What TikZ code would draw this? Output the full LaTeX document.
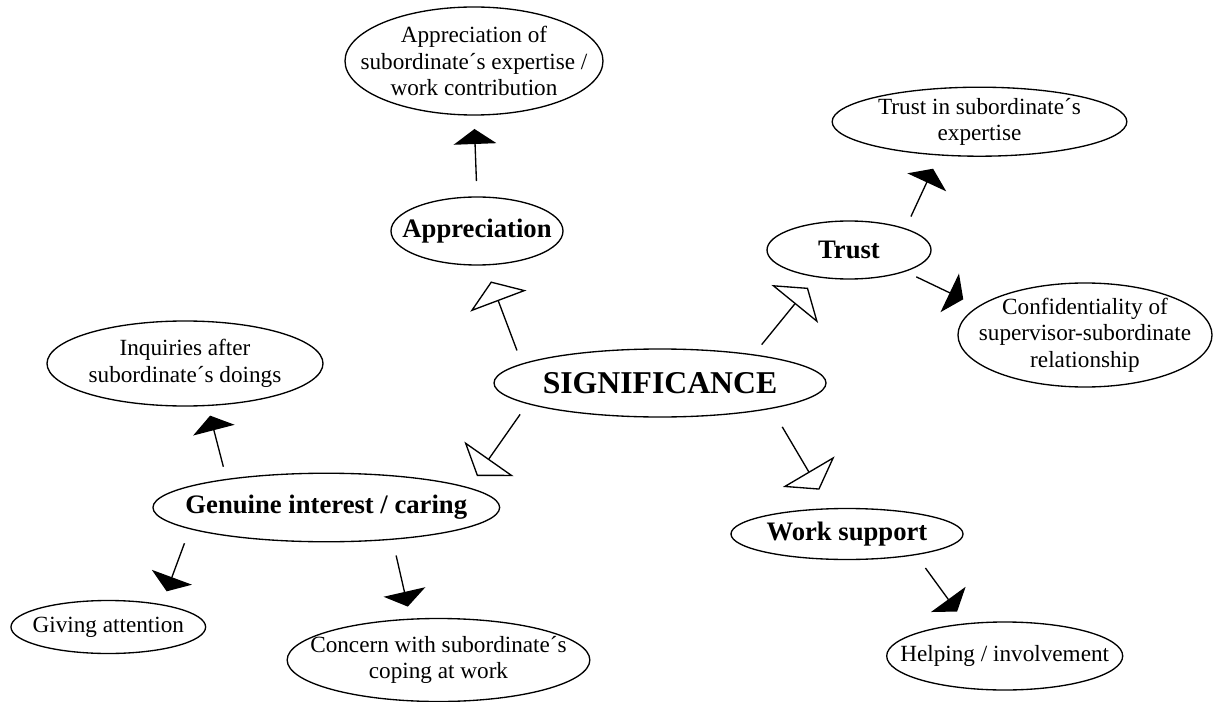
\documentclass[tikz,border=0pt]{standalone}
\usepackage{fontspec}
\setmainfont{Liberation Serif}
\usepackage{tikz}
\usetikzlibrary{shapes.geometric, arrows.meta}
\tikzstyle{core} = [ellipse, draw=black, line width=1pt, inner sep=-5cm, align=center, font=\bfseries\fontsize{23.8}{28}\selectfont]
\tikzstyle{theme} = [ellipse, draw=black, line width=1pt, inner sep=-5cm, align=center, font=\bfseries\fontsize{20}{23}\selectfont]
\tikzstyle{subtheme} = [ellipse, draw=black, line width=1pt, inner sep=-5cm, align=center, font=\fontsize{17.4}{19.8}\selectfont]
\tikzstyle{openarrow} = [line width=1pt, -{Triangle[open, fill=white, length=15.75pt, width=45pt]}]
\tikzstyle{fullarrow} = [line width=1pt, -{Triangle[length=11.25pt, width=32pt]}]

\begin{document}
\begin{tikzpicture}[x=0.75pt, y=-0.75pt]
                \useasboundingbox (0,0) rectangle (1213,702);
                \node (sig) [core, minimum width=249pt, minimum height=51pt] at (660,383) {SIGNIFICANCE};
                \node (appr) [theme, minimum width=129pt, minimum height=51pt] at (477,231) {Appreciation};
                \node (trust) [theme, minimum width=123pt, minimum height=43.5pt] at (849,250) {Trust};
                \node (genu) [theme, minimum width=260pt, minimum height=51.4pt] at (326.3,507.5) {Genuine interest / caring};
                \node (work) [theme, minimum width=174pt, minimum height=38.25pt] at (847,534) {Work support};

                \node (apprx) [subtheme, minimum width=193.5pt, minimum height=81pt] at (474,61) {Appreciation of\\subordinate´s expertise /\\work contribution};
                \node (trustx) [subtheme, minimum width=221pt, minimum height=51.75pt] at (979.5,121.7) {Trust in subordinate´s\\expertise};
                \node (conf) [subtheme, minimum width=190.5pt, minimum height=78pt] at (1085,335) {Confidentiality of\\supervisor-subordinate\\relationship};
                \node (inq) [subtheme, minimum width=207pt, minimum height=63.75pt] at (185,363.5) {Inquiries after\\subordinate´s doings};
                \node (giving) [subtheme, minimum width=146pt, minimum height=39.75pt] at (108.3,627) {Giving attention};
                \node (concern) [subtheme, minimum width=227pt, minimum height=62.25pt] at (438.5,660) {Concern with subordinate´s\\coping at work};
                \node (helping) [subtheme, minimum width=177pt, minimum height=51pt] at (1004.7,656) {Helping / involvement};

                \draw [openarrow, shorten <=10.5pt, shorten >=12.75pt] (sig.172) -- (appr.-77.5);
                \draw [openarrow, shorten <=9.4pt, shorten >=10.1pt] (sig.17.4) -- (trust.-140.4);
                \draw [openarrow, shorten <=9.5pt, shorten >=10.5pt] (sig.-171.5) -- (genu.8.5);
                \draw [openarrow, shorten <=15.75pt, shorten >=16pt] (sig.-13.7) -- (work.123.2);

                \draw [fullarrow, shorten <=11.5pt, shorten >=10pt] (appr.north) -- (apprx.south);
                \draw [fullarrow, shorten <=9.75pt, shorten >=10.9pt] (trust.21.6) -- (trustx.-140.2);
                \draw [fullarrow, shorten <=9pt, shorten >=12.2pt] (trust.-21.3) -- (conf.165.3);
                \draw [fullarrow, shorten <=9.4pt, shorten >=7.4pt] (genu.164) -- (inq.-62.9);
                \draw [fullarrow, shorten <=11.3pt, shorten >=10.35pt] (genu.-171.2) -- (giving.23.6);
                \draw [fullarrow, shorten <=12.1pt, shorten >=9.2pt] (genu.-26.1) -- (concern.124.4);
                \draw [fullarrow, shorten <=12pt, shorten >=10.9pt] (work.-17.4) -- (helping.140.8);
            \end{tikzpicture}
\end{document}
